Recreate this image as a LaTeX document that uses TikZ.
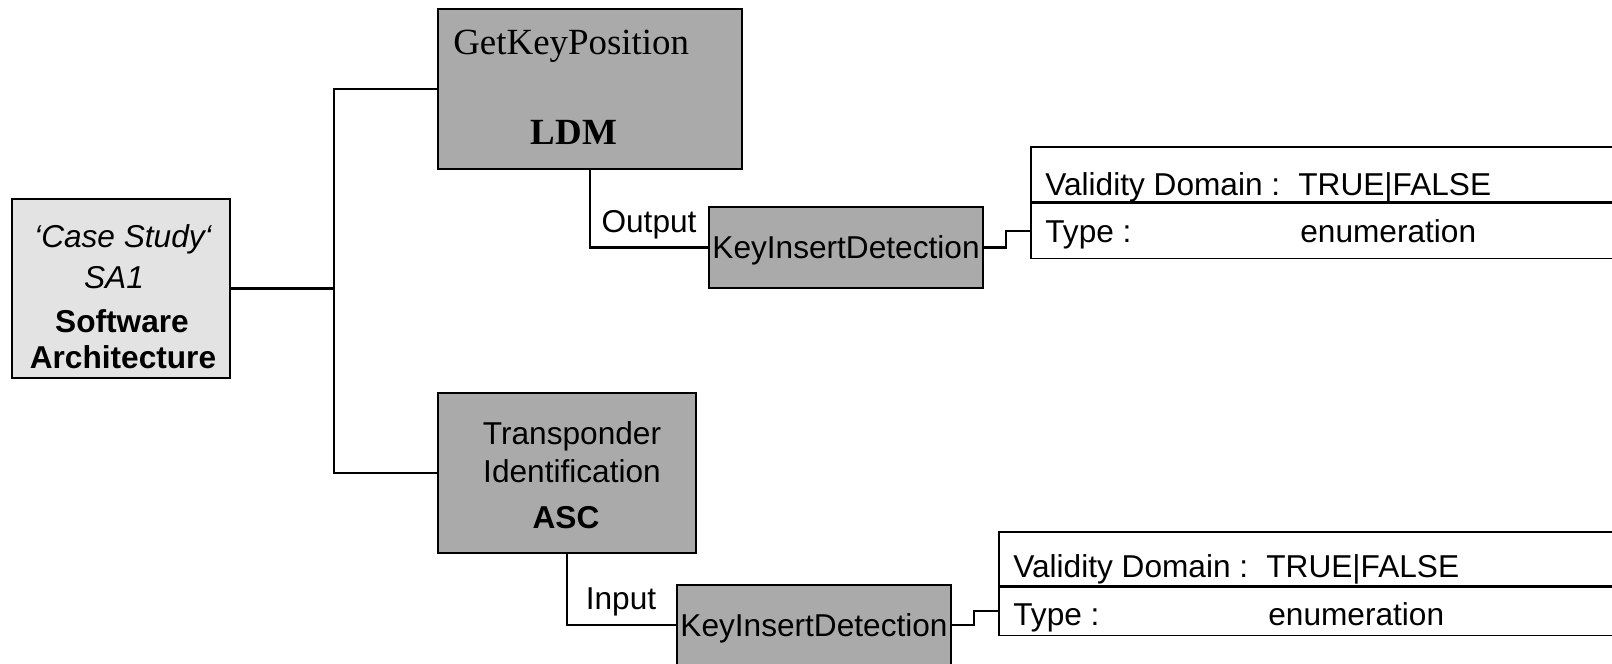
\documentclass[tikz,border=0pt]{standalone}
\usepackage{fontspec}
\setmainfont{Liberation Sans}
\newfontfamily\serifface{Liberation Serif}
\usepackage{xcolor}
\usepackage{tikz}
\usetikzlibrary{positioning}
\definecolor{palegray}{RGB}{227,227,227}
\definecolor{unitgray}{RGB}{170,170,170}

\begin{document}
\begin{tikzpicture}[x=0.02cm, y=-0.02cm,
		every node/.style={font=\fontsize{18}{21}\selectfont, inner sep=0pt},
		unit/.style={draw, line width=1.15pt, fill=unitgray},
		signal/.style={unit, minimum width=5.48cm, minimum height=1.61cm, text depth=0pt},
		row/.style={draw, line width=0.9pt, anchor=north west},
		wire/.style={line width=1.15pt}]
			\useasboundingbox (0,0) rectangle (1612,663);
			% boxes
			\node[unit, fill=palegray, minimum width=4.36cm, minimum height=3.58cm] (sa) at (121,288.5) {};
			\node[unit, minimum width=6.1cm, minimum height=3.2cm] (ldm) at (590,89) {};
			\node[unit, minimum width=5.18cm, minimum height=3.2cm] (asc) at (567,473) {};
			\node[signal] (okid) at (846,247.5) {KeyInsertDetection};
			\node[signal] (ikid) at (814,625) {KeyInsertDetection};
			% box texts
			\node[anchor=base] (saname) at (123,247) {\itshape `Case Study`};
			\node[anchor=base] (said) at (114,288) {\itshape SA1};
			\node[anchor=base] (sasw) at (122,332) {\bfseries Software};
			\node[anchor=base] (saarch) at (123,368) {\bfseries Architecture};
			\node[anchor=base west, font=\serifface\fontsize{21}{24}\selectfont] (ldmname) at (453,54) {GetKeyPosition};
			\node[anchor=base, font=\serifface\bfseries\fontsize{21}{24}\selectfont] (ldmid) at (574,144) {LDM};
			\node[anchor=base] (ascname) at (572,444) {Transponder};
			\node[anchor=base] (ascname2) at (572,482) {Identification};
			\node[anchor=base] (ascid) at (566,528) {\bfseries ASC};
			% ports
			\node[anchor=base] (outlbl) at (649,232) {Output};
			\node[anchor=base] (inlbl) at (621,609) {Input};
			% attribute tables
			\node[row, minimum width=12.6cm, minimum height=1.1cm] (vdA) at (1030,146) {};
			\node[row, minimum width=12.6cm, minimum height=1.1cm] (tyA) at (vdA.south west) {};
			\node[row, minimum width=13.3cm, minimum height=1.08cm] (vdB) at (998,531) {};
			\node[row, minimum width=13.3cm, minimum height=0.96cm] (tyB) at (vdB.south west) {};
			\node[anchor=base west] (vdAkey) at (1045,195) {Validity Domain :};
			\node[anchor=base west] (vdAval) at (1298,195) {TRUE|FALSE};
			\node[anchor=base west] (tyAkey) at (1045,242) {Type :};
			\node[anchor=base west] (tyAval) at (1300,242) {enumeration};
			\node[anchor=base west] (vdBkey) at (1013,577) {Validity Domain :};
			\node[anchor=base west] (vdBval) at (1266,577) {TRUE|FALSE};
			\node[anchor=base west] (tyBkey) at (1013,625) {Type :};
			\node[anchor=base west] (tyBval) at (1268,625) {enumeration};
			% connectors
			\coordinate (fork) at (334,288.5);
			\draw[wire] (sa.east) -- (fork);
			\draw[wire] (ldm.west) -| (fork) |- (asc.west);
			\draw[wire] (ldm.south) |- (okid.west);
			\draw[wire] (asc.south) |- (ikid.west);
			\draw[wire] (okid.east) -- ++(22,0) |- (tyA.west);
			\draw[wire] (ikid.east) -- ++(22,0) |- (tyB.west);
		\end{tikzpicture}
\end{document}
